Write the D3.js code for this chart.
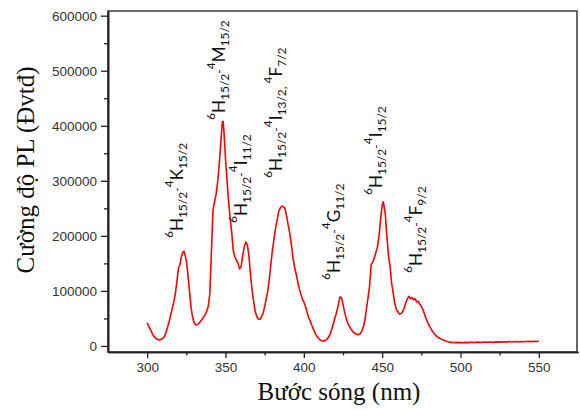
<!DOCTYPE html>
<html><head><meta charset="utf-8">
<script src="https://cdn.jsdelivr.net/npm/d3@7"></script>
<style>body{margin:0;background:#fff} svg{display:block}</style>
</head><body>
<svg id="c" width="580" height="411"></svg>
<script>
// ---- data ----
const wavelengths = [300,301,302,303,304,305,306,307,308,309,310,311,312,313,314,315,316,317,318,319,320,321,322,323,323.5,324,325,326,327,328,329,330,331,332,333,334,335,336,337,338,339,340,341,342,343,344,345,346,347,348,348.5,349,350,351,352,353,354,355,356,357,358,359,360,361,362,363,364,365,366,367,368,369,370,371,372,373,374,375,376,377,378,379,380,381,382,383,384,385,386,387,388,389,390,391,392,393,394,395,396,397,398,399,400,401,402,403,404,405,406,407,408,409,410,411,412,413,414,415,416,417,418,419,420,421,422,423,424,425,426,427,428,429,430,431,432,433,434,435,436,437,438,439,440,441,442,443,444,445,446,447,448,449,450,450.7,451,452,453,454,455,456,457,458,459,460,461,462,463,464,465,466,467,468,469,470,471,472,473,474,475,476,477,478,479,480,481,482,483,484,485,486,487,488,489,490,491,492,493,494,495,497,499,501,503,505,507,509,511,513,515,517,519,521,523,525,527,529,531,533,535,537,539,541,543,545,547,549,550];
const intensity = [42000,36000,30000,24000,19000,15000,13000,11500,11000,12000,14000,16500,24000,34000,44000,56000,68000,80000,95000,118000,142000,148000,165000,171000,172000,167000,155000,130000,100000,70000,52000,42000,38000,38500,41000,44500,48000,52000,57000,63000,72000,95000,170000,245000,262000,275000,298000,330000,370000,407000,408000,390000,340000,300000,262000,232000,205000,172000,162000,156000,150000,140000,145000,165000,180000,189000,183000,162000,128000,100000,80000,62000,53000,49000,48500,53000,59000,72000,86000,100000,122000,150000,175000,195000,215000,229000,245000,251000,254000,253000,250000,236000,220000,205000,185000,162000,144000,132000,118000,105000,95000,86000,80000,72000,62000,52000,46000,38000,31000,25000,19000,15000,12000,10000,9000,9200,10500,13000,17000,23000,32000,42000,52000,62000,75000,89000,88000,76000,62000,50000,42000,36000,31000,27000,24000,22000,21000,20500,22000,27000,35000,47000,68000,88000,110000,148000,152000,160000,170000,180000,200000,230000,255000,262000,258000,240000,200000,165000,145000,115000,97000,78000,67000,62000,58000,58500,62000,68000,78000,85000,90000,86000,88000,84000,86000,80000,81000,76000,72000,66000,58000,50000,43000,37000,32000,27000,23000,20000,17000,15000,13500,12000,11000,9500,8500,7500,7000,6500,6200,6000,6400,5800,6500,6100,6800,6300,6900,6200,7000,6600,7200,6500,7400,6900,7600,7000,7800,7300,8000,7400,8200,7700,8400,7900,8600,8200,9000];
const xTickValues = [300,350,400,450,500,550];
const xMinorTicks = [325,375,425,475,525];
const yTickValues = [0,100000,200000,300000,400000,500000,600000];
const yMinorTicks = [50000,150000,250000,350000,450000,550000];
const xTitle = "Bước sóng (nm)";
const yTitle = "Cường độ PL (Đvtđ)";
// transition labels: parts [text, kind]
const labelParts = [
  [["6","sup"],["H","main"],["15/2","sub"],["-","dash"],["4","sup"],["K","main"],["15/2","sub"]],
  [["6","sup"],["H","main"],["15/2","sub"],["-","dash"],["4","sup"],["M","main"],["15/2","sub"]],
  [["6","sup"],["H","main"],["15/2","sub"],["-","dash"],["4","sup"],["I","main"],["11/2","sub"]],
  [["6","sup"],["H","main"],["15/2","sub"],["-","dash"],["4","sup"],["I","main"],["13/2","sub"],[", ","sub"],["4","sup"],["F","main"],["7/2","sub"]],
  [["6","sup"],["H","main"],["15/2","sub"],["-","dash"],["4","sup"],["G","main"],["11/2","sub"]],
  [["6","sup"],["H","main"],["15/2","sub"],["-","dash"],["4","sup"],["I","main"],["15/2","sub"]],
  [["6","sup"],["H","main"],["15/2","sub"],["-","dash"],["4","sup"],["F","main"],["9/2","sub"]]
];
const labelWavelength = [322.8,349.6,363.7,386.0,423.0,449.8,475.4];
const labelIntensity = [196000,410500,223400,305100,119900,274200,132600];

// ---- drawing ----
const svg = d3.select("#c");
const x = d3.scaleLinear().domain([275,575]).range([108,578]);
const y = d3.scaleLinear().domain([-11000,608500]).range([352,11]);

const axisColor = "#222";
const tickFont = "'Liberation Sans', Arial, sans-serif";

// frame
svg.append("rect").attr("x",108).attr("y",11).attr("width",469).attr("height",341)
  .attr("fill","none").attr("stroke","#444").attr("stroke-width",1.6);

// y axis
const gy = svg.append("g").attr("transform","translate(108,0)")
  .call(d3.axisLeft(y).tickValues(yTickValues).tickSize(7).tickSizeOuter(0).tickFormat(d3.format("d")));
const gym = svg.append("g").attr("transform","translate(108,0)")
  .call(d3.axisLeft(y).tickValues(yMinorTicks).tickSize(4).tickSizeOuter(0).tickFormat(""));
// x axis
const gx = svg.append("g").attr("transform","translate(0,352)")
  .call(d3.axisBottom(x).tickValues(xTickValues).tickSize(6).tickSizeOuter(0));
const gxm = svg.append("g").attr("transform","translate(0,352)")
  .call(d3.axisBottom(x).tickValues(xMinorTicks).tickSize(3.5).tickSizeOuter(0).tickFormat(""));

[gy,gym,gx,gxm].forEach(g=>{
  g.select(".domain").attr("stroke",axisColor).attr("stroke-width",1.6);
  g.selectAll(".tick line").attr("stroke",axisColor).attr("stroke-width",1.3);
  g.selectAll(".tick text").attr("fill","#333").attr("font-family",tickFont).attr("font-size",13.5);
});
gy.selectAll(".tick text").attr("x",-11).attr("dy","0.36em");
gx.selectAll(".tick text").attr("y",10).attr("dy","0.71em");

// curve
const pts = wavelengths.map((w,i)=>[w,intensity[i]]);
svg.append("path").datum(pts)
  .attr("fill","none").attr("stroke","#ff0000").attr("stroke-width",1.6)
  .attr("stroke-linejoin","round")
  .attr("d", d3.line().x(d=>x(d[0])).y(d=>y(d[1])));

// titles
svg.append("text").attr("x",339).attr("y",400).attr("text-anchor","middle")
  .attr("font-family","'Liberation Serif', 'Times New Roman', serif").attr("font-size",25).attr("fill","#111")
  .text(xTitle);
svg.append("text").attr("transform","translate(34,170) rotate(-90)").attr("text-anchor","middle")
  .attr("font-family","'Liberation Serif', 'Times New Roman', serif").attr("font-size",25).attr("fill","#111")
  .text(yTitle);

// annotations
const kindStyle = {
  main:{size:17, shift:0},
  sup:{size:12, shift:-9.5},
  sub:{size:12, shift:4},
  dash:{size:12, shift:-2}
};
labelParts.forEach((parts,i)=>{
  const t = svg.append("text")
    .attr("transform",`translate(${x(labelWavelength[i])},${y(labelIntensity[i])}) rotate(-90)`)
    .attr("font-family","Lato, 'Liberation Sans', sans-serif").attr("fill","#111");
  let prev = 0;
  parts.forEach(([s,k])=>{
    const st = kindStyle[k];
    t.append("tspan").attr("font-size",st.size).attr("dy",st.shift-prev).text(s);
    prev = st.shift;
  });
});
</script>
</body></html>
